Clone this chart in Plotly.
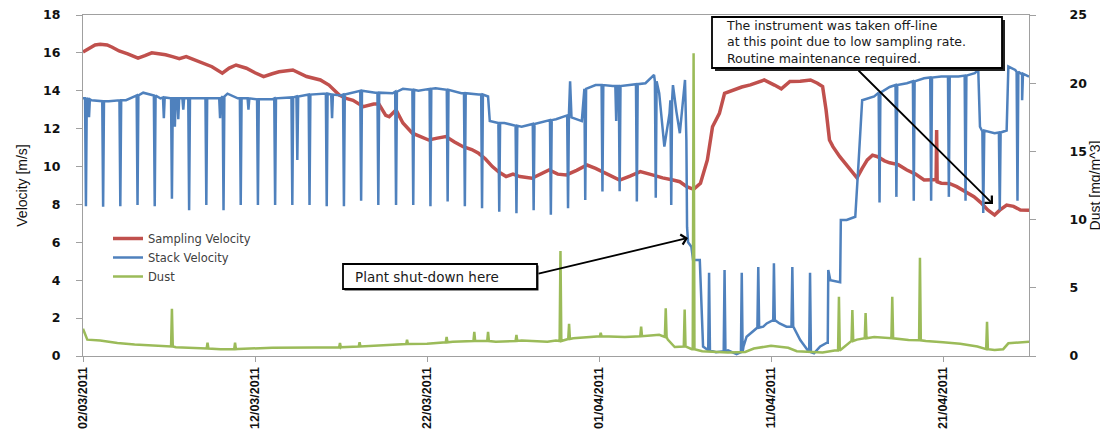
import pandas as pd
import plotly.graph_objects as go

# ---------------- data (days after 02/03/2011 00:00) ----------------
START = "2011-03-02"

sampling_days = [0.0, 0.3, 0.7, 1.0, 1.4, 1.7, 2.1, 2.6, 3.2, 3.6, 4.0, 4.4, 4.8, 5.2, 5.6, 6.0, 6.6, 7.0,
                 7.5, 8.1, 8.5, 8.9, 9.5, 10.0, 10.5, 11.0, 11.4, 12.2, 12.6, 13.0, 13.8, 14.3, 14.9, 15.3,
                 15.7, 16.3, 16.9, 17.2, 17.6, 17.8, 18.2, 18.6, 19.15, 19.6, 20.1, 20.6, 21.1, 21.6, 22.1,
                 22.6, 23.0, 23.4, 23.8, 24.2, 24.6, 25.0, 25.4, 26.1, 26.6, 27.1, 27.6, 28.1, 28.7, 29.3,
                 29.8, 30.4, 30.8, 31.2, 31.8, 32.4, 33.1, 33.7, 34.3, 34.7, 35.1, 35.5, 35.9, 36.3, 36.6,
                 37.0, 37.3, 37.8, 38.3, 38.8, 39.2, 39.6, 40.2, 40.6, 41.1, 41.7, 42.3, 42.7, 43.0, 43.2,
                 43.4, 43.6, 44.0, 44.3, 44.6, 45.0, 45.3, 45.6, 45.9, 46.2, 46.6, 46.9, 47.4, 47.9, 48.4,
                 48.9, 49.4, 49.6, 49.63, 49.66, 49.9, 50.4, 50.8, 51.3, 51.8, 52.2, 52.6, 53.0, 53.3, 53.7,
                 54.1, 54.5, 55.0]
sampling_vals = [16.05, 16.2, 16.42, 16.45, 16.42, 16.3, 16.1, 15.95, 15.72, 15.85, 16.0, 15.95, 15.9, 15.8,
                 15.7, 15.8, 15.6, 15.45, 15.27, 14.93, 15.2, 15.36, 15.19, 14.95, 14.75, 14.9, 15.0, 15.1,
                 14.9, 14.75, 14.57, 14.3, 13.78, 13.6, 13.5, 13.16, 13.3, 13.3, 12.7, 12.63, 12.99, 12.3,
                 11.76, 11.6, 11.4, 11.5, 11.58, 11.3, 11.05, 10.9, 10.7, 10.4, 10.0, 9.7, 9.47, 9.6, 9.47,
                 9.38, 9.6, 9.82, 9.6, 9.56, 9.8, 10.08, 9.9, 9.65, 9.5, 9.29, 9.5, 9.73, 9.56, 9.4, 9.29,
                 9.2, 8.94, 8.8, 9.12, 10.35, 12.1, 12.81, 13.87, 14.04, 14.2, 14.31, 14.45, 14.57, 14.3,
                 14.1, 14.49, 14.5, 14.57, 14.4, 14.22, 13.0, 11.4, 11.05, 10.52, 10.2, 9.82, 9.4, 9.9,
                 10.35, 10.6, 10.52, 10.3, 10.2, 10.1, 9.82, 9.6, 9.29, 9.3, 9.3, 11.93, 9.2, 9.12, 9.1,
                 8.94, 8.7, 8.41, 8.1, 7.71, 7.44, 7.7, 7.97, 7.9, 7.71, 7.7]

stack_days = [0.0, 0.5, 1.5, 2.5, 3.0, 3.5, 4.0, 4.5, 6.0, 8.0, 8.4, 9.0, 11.0, 12.5, 14.0, 15.0, 16.0, 17.0,
              18.0, 18.6, 19.5, 20.5, 22.0, 23.0, 23.55, 23.65, 24.5, 25.5, 26.5, 27.5, 28.25, 28.32, 28.4,
              29.0, 29.15, 29.8, 30.8, 31.8, 32.7, 33.2, 33.5, 33.8, 34.1, 34.3, 34.5, 34.7, 35.0, 35.08,
              35.12, 35.18, 35.37, 35.47, 35.86, 35.95, 36.05, 36.8, 37.5, 38.0, 38.4, 38.58, 39.55, 39.75,
              40.13, 40.5, 40.9, 41.3, 41.7, 42.1, 42.5, 42.86, 43.25, 43.3, 43.33, 43.45, 44.02, 44.06,
              44.4, 44.9, 45.1, 45.3, 46.0, 46.9, 47.9, 48.9, 49.9, 50.9, 51.85, 52.05, 52.15, 52.4, 53.0,
              53.7, 53.8, 54.2, 54.6, 55.0]
stack_vals = [13.6, 13.5, 13.45, 13.5, 13.7, 13.9, 13.8, 13.6, 13.6, 13.6, 13.85, 13.6, 13.55, 13.7, 13.85,
              13.75, 14.0, 13.9, 13.87, 14.1, 14.0, 14.13, 13.87, 13.8, 13.7, 12.4, 12.3, 12.1, 12.3, 12.5,
              12.7, 14.5, 12.6, 12.4, 14.04, 14.3, 14.25, 14.3, 14.4, 14.84, 13.87, 11.05, 12.81, 14.3,
              12.9, 11.76, 14.57, 11.4, 6.8, 6.0, 5.77, 5.07, 5.07, 3.3, 0.5, 0.2, 0.3, 0.1, 0.5, 1.02,
              1.55, 1.72, 1.9, 1.72, 1.55, 1.55, 0.84, 0.3, 0.14, 0.5, 0.7, 0.7, 4.54, 4.0, 3.9, 7.18,
              7.18, 7.35, 10.35, 13.5, 13.7, 14.2, 14.4, 14.66, 14.75, 14.75, 14.93, 15.1, 12.1, 11.9,
              11.76, 11.9, 15.28, 15.1, 14.9, 14.75]

# sharp excursions of the stack velocity: time, level around it, extreme value
stack_sp_days = [0.17, 0.35, 1.17, 2.17, 3.17, 4.17, 4.7, 5.17, 5.34, 5.54, 5.83, 6.17, 7.17, 7.97, 8.17,
                 9.17, 9.62, 10.17, 11.17, 12.17, 12.46, 13.17, 14.17, 14.48, 15.17, 16.17, 17.17, 18.2,
                 19.2, 20.2, 21.2, 22.2, 23.2, 24.2, 25.2, 26.2, 27.2, 28.2, 29.2, 30.2, 31.0, 31.2, 32.2,
                 33.3, 34.2, 36.4, 37.3, 38.3, 39.26, 40.17, 41.24, 42.27, 46.31, 47.29, 48.3, 49.31,
                 50.34, 51.31, 52.34, 53.3, 54.33, 54.6]
stack_sp_base = [13.6, 13.55, 13.45, 13.5, 13.75, 13.75, 13.65, 13.6, 13.6, 13.6, 13.6, 13.6, 13.6, 13.6,
                 13.7, 13.6, 13.6, 13.55, 13.6, 13.65, 13.7, 13.8, 13.85, 13.8, 13.8, 14.0, 13.9, 13.95,
                 14.05, 14.1, 14.05, 13.87, 13.8, 12.3, 12.15, 12.25, 12.45, 12.7, 14.1, 14.3, 14.25,
                 14.25, 14.35, 14.5, 13.5, 0.3, 0.25, 0.2, 1.5, 1.9, 1.55, 0.2, 13.9, 14.3, 14.5, 14.7,
                 14.75, 14.8, 11.85, 11.8, 15.0, 14.9]
stack_sp_ext = [7.9, 12.6, 7.88, 7.9, 7.97, 7.9, 12.55, 8.3, 12.1, 12.5, 13.0, 7.7, 7.97, 12.55, 7.7, 7.97,
                13.0, 7.97, 7.97, 7.97, 10.35, 7.97, 7.9, 12.55, 7.9, 8.2, 7.97, 7.97, 7.97, 7.9, 8.15,
                7.9, 7.8, 7.62, 7.53, 7.7, 7.45, 7.8, 8.24, 8.68, 12.4, 8.7, 8.15, 8.35, 7.97, 4.4, 4.54,
                4.4, 4.7, 4.9, 4.7, 4.4, 8.1, 8.4, 8.2, 8.2, 8.4, 8.2, 7.55, 7.7, 8.2, 13.5]

dust_days = [0.0, 0.25, 1.0, 2.0, 3.0, 4.3, 5.4, 7.0, 8.0, 9.0, 11.0, 13.5, 15.0, 17.0, 18.5, 20.0, 21.5,
             22.5, 24.0, 25.5, 27.0, 27.5, 28.5, 30.0, 31.5, 33.0, 33.5, 34.0, 34.4, 35.0, 35.4, 36.0,
             37.5, 38.5, 39.0, 40.0, 41.0, 41.5, 43.0, 43.7, 44.0, 45.0, 46.0, 47.0, 48.0, 49.0, 50.0,
             51.0, 52.0, 52.5, 53.0, 53.5, 53.8, 54.5, 55.0]
dust_vals = [2.0, 1.2, 1.13, 0.95, 0.85, 0.76, 0.64, 0.55, 0.5, 0.52, 0.6, 0.62, 0.64, 0.75, 0.88, 0.9,
             1.05, 1.13, 1.05, 1.13, 1.05, 1.13, 1.3, 1.45, 1.4, 1.5, 1.55, 1.2, 0.66, 0.7, 0.5, 0.35,
             0.25, 0.3, 0.55, 0.75, 0.6, 0.35, 0.25, 0.4, 1.0, 1.2, 1.4, 1.3, 1.17, 1.1, 1.0, 0.9, 0.7,
             0.5, 0.44, 0.5, 0.93, 1.0, 1.05]
dust_sp_days = [5.17, 7.24, 8.84, 14.94, 16.08, 18.84, 21.14, 22.75, 23.55, 25.2, 27.76, 28.26, 30.1,
                32.45, 33.88, 34.98, 35.5, 43.95, 44.73, 45.5, 47.05, 48.66, 52.56]
dust_sp_base = [0.7, 0.55, 0.5, 0.63, 0.7, 0.88, 1.0, 1.1, 1.1, 1.1, 1.1, 1.25, 1.45, 1.45, 1.4, 0.7, 0.5,
                0.4, 1.1, 1.3, 1.3, 1.15, 0.5]
dust_sp_peak = [3.47, 0.98, 0.98, 0.95, 1.0, 1.2, 1.4, 1.76, 1.76, 1.55, 7.7, 2.36, 1.7, 2.15, 3.5, 3.4,
                22.2, 4.35, 3.37, 3.15, 4.35, 7.2, 2.5]

x_tick_dates = ["2011-03-02", "2011-03-12", "2011-03-22", "2011-04-01", "2011-04-11", "2011-04-21"]
x_tick_text = ["02/03/2011", "12/03/2011", "22/03/2011", "01/04/2011", "11/04/2011", "21/04/2011"]

# ---------------- helpers ----------------
def merge(days, vals, sp_days=(), sp_base=(), sp_ext=(), half=0.05):
    pts = list(zip(days, vals))
    for t, b, e in zip(sp_days, sp_base, sp_ext):
        pts += [(t - half, b), (t, e), (t + half, b)]
    pts.sort(key=lambda p: p[0])
    d = [p[0] for p in pts]
    v = [p[1] for p in pts]
    return pd.Timestamp(START) + pd.to_timedelta(d, unit="D"), v


RED, BLUE, GREEN = "#C0504D", "#4F81BD", "#9BBB59"
NARROW = "Liberation Sans, Arial, sans-serif"
WIDE = "DejaVu Sans, Verdana, sans-serif"
AX = "#A0A0A0"

xs, ys = merge(sampling_days, sampling_vals)
xb, yb = merge(stack_days, stack_vals, stack_sp_days, stack_sp_base, stack_sp_ext)
xg, yg = merge(dust_days, dust_vals, dust_sp_days, dust_sp_base, dust_sp_peak)

fig = go.Figure()
fig.add_trace(go.Scatter(x=xs, y=ys, mode="lines", name="Sampling Velocity",
                         line=dict(color=RED, width=3.5)))
fig.add_trace(go.Scatter(x=xb, y=yb, mode="lines", name="Stack Velocity",
                         line=dict(color=BLUE, width=2.5)))
fig.add_trace(go.Scatter(x=xg, y=yg, mode="lines", name="Dust", yaxis="y2",
                         line=dict(color=GREEN, width=2.5)))

# the page places the figure 8 px from the window's top-left corner
OFF = 8
L, R, T, B, W, H = 75, 79, 7, 75, 1100, 423
PW, PH = W - L - R, H - T - B


def px(x):
    return (x - OFF - L) / PW


def py(y):
    return (OFF + T + PH - y) / PH


fig.update_layout(
    width=W, height=H, margin=dict(l=L, r=R, t=T, b=B, autoexpand=False),
    paper_bgcolor="white", plot_bgcolor="white",
    showlegend=True,
    legend=dict(x=px(108), y=py(224), xanchor="left", yanchor="top",
                font=dict(family=WIDE, size=11.5, color="#404040"),
                bgcolor="rgba(0,0,0,0)", itemwidth=30, tracegroupgap=0),
    xaxis=dict(type="date", range=["2011-03-02", "2011-04-26"], automargin=False,
               tickvals=x_tick_dates, ticktext=x_tick_text, tickangle=-90,
               tickfont=dict(family=NARROW, size=12.5, color="#111", weight="bold"),
               ticks="outside", ticklen=5, tickcolor=AX, showline=True, linecolor=AX,
               linewidth=1.2, mirror=True, showgrid=False, zeroline=False),
    yaxis=dict(range=[0, 18], dtick=2, showgrid=False, zeroline=False, automargin=False,
               ticks="outside", ticklen=6, tickcolor=AX, showline=True, linecolor=AX, linewidth=1.2,
               tickfont=dict(family=WIDE, size=12.5, color="#111", weight="bold"),
               ticklabelstandoff=13, ticklabeloverflow="allow",
               title=dict(text="Velocity [m/s]", font=dict(family=NARROW, size=14, color="#111"),
                          standoff=12)),
    yaxis2=dict(range=[0, 25], dtick=5, overlaying="y", side="right", showgrid=False,
                zeroline=False, ticks="outside", ticklen=6, tickcolor=AX, showline=True,
                linecolor=AX, linewidth=1.2, automargin=False,
                tickfont=dict(family=WIDE, size=12.5, color="#111", weight="bold"),
                ticklabelstandoff=31, ticklabeloverflow="allow",
                title=dict(text="Dust [mg/m^3]", font=dict(family=NARROW, size=14, color="#111"),
                           standoff=1)),
)

shapes = []
for (x0, y0, x1, y1, sh) in [(343, 264, 537, 289, 1.5), (712, 17, 1002, 68, 3)]:
    shapes.append(dict(type="rect", xref="paper", yref="paper", x0=px(x0 + sh), x1=px(x1 + sh),
                       y0=py(y0 + sh), y1=py(y1 + sh), fillcolor="#222", line=dict(width=0)))
    shapes.append(dict(type="rect", xref="paper", yref="paper", x0=px(x0), x1=px(x1),
                       y0=py(y0), y1=py(y1), fillcolor="white", line=dict(color="black", width=1.8)))
fig.update_layout(shapes=shapes)

fig.add_annotation(xref="paper", yref="paper", x=px(353), y=py(276.5), xanchor="left", yanchor="middle",
                   text="Plant shut-down here", showarrow=False,
                   font=dict(family=WIDE, size=13.5, color="#1a1a1a"))
fig.add_annotation(xref="paper", yref="paper", x=px(724), y=py(41.5), xanchor="left", yanchor="middle",
                   text="The instrument was taken off-line<br>at this point due to low sampling rate."
                        "<br>Routine maintenance required.",
                   align="left", showarrow=False, font=dict(family=WIDE, size=12.5, color="#1a1a1a"))
for (hx, hy, tx, ty) in [(688, 238, 537, 274), (993, 204, 857, 69)]:
    fig.add_annotation(xref="paper", yref="paper", x=px(hx), y=py(hy), ax=tx - hx, ay=ty - hy,
                       text="", showarrow=True, arrowhead=4, arrowsize=1.1, arrowwidth=1.8,
                       arrowcolor="black", standoff=0, startstandoff=0)

fig.write_html("out.html")
